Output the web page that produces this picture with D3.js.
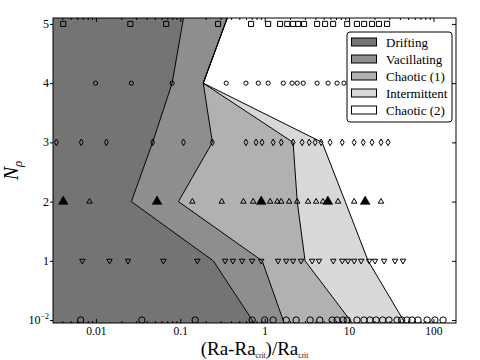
<!DOCTYPE html>
<html>
<head>
<meta charset="utf-8">
<script src="https://cdn.jsdelivr.net/npm/d3@7"></script>
<style>
  body { margin: 0; background: #fff; }
  text { font-family: "Liberation Serif", "DejaVu Serif", serif; fill: #000; }
</style>
</head>
<body>
<div id="chart"></div>
<script>
// SVG area and chart margins
var svgWidth = 480;
var svgHeight = 360;
var margin = { top: 18, right: 24, bottom: 37, left: 53 };
var chartWidth = svgWidth - margin.left - margin.right;
var chartHeight = svgHeight - margin.top - margin.bottom;

// Measured runs, one array per N_rho level
var row0 = [0.0066, 0.035, 0.15, 0.71, 1.0, 1.26, 1.8, 2.36, 3.45, 4.5, 6.3, 7.2, 8.5, 9.5, 12.4, 15, 17.7, 20.9, 25, 29.7, 37, 42, 48.5, 55.7, 65.6, 84, 104, 130];
var row1 = [0.0069, 0.0145, 0.024, 0.063, 0.159, 0.34, 0.42, 0.54, 0.71, 0.91, 1.44, 1.8, 2.17, 2.7, 3.65, 4.4, 6.5, 8.3, 9.7, 11.5, 13.9, 17.3, 20.3, 26, 35, 43.5];
var row2 = [0.0084, 0.139, 0.31, 0.56, 0.73, 1.16, 1.41, 1.57, 1.95, 2.43, 3.27, 4.07, 4.9, 7.4, 11.5, 23.9];
var row2Highlight = [0.0041, 0.053, 0.91, 5.6, 15.5];
var row3 = [0.0034, 0.0067, 0.0133, 0.047, 0.109, 0.24, 0.60, 0.79, 0.93, 1.26, 1.57, 2.17, 2.78, 3.37, 3.96, 4.67, 5.96, 8.3, 11.5, 14.7, 18.7, 23.9, 29];
var row4 = [0.0099, 0.0263, 0.080, 0.35, 0.60, 0.84, 1.1, 1.66, 2.11, 2.43, 2.86, 4.18, 5.64, 7.2, 8.7];
var row5 = [0.0041, 0.0256, 0.068, 0.28, 0.69, 1.1, 1.52, 1.85, 2.17, 2.49, 2.93, 4.18, 5.2, 6.47, 9.5, 12.4, 15.1, 18.7, 22.6, 28.2];

// Regime boundaries (x value of each edge at each level)
var edgeLevels = [-0.05, 1, 2, 3, 4, 5.1];
var driftEdge = [0.75, 0.246, 0.0263, 0.047, 0.080, 0.109];
var vacilEdge = [1.70, 0.934, 0.095, 0.24, 0.187, 0.36];
var chaos1Edge = [10.9, 3.01, 2.43, 2.17, 0.187, 0.36];
var intermEdge = [46, 16.8, 9.0, 4.79, 0.187, 0.36];

var regimeNames = ["Drifting", "Vacillating", "Chaotic (1)", "Intermittent", "Chaotic (2)"];
var regimeColors = ["#747474", "#8e8e8e", "#b1b1b1", "#d8d8d8", "#ffffff"];

// Axis ticks
var xTicks = [0.01, 0.1, 1, 10, 100];
var xTickLabels = ["0.01", "0.1", "1", "10", "100"];
var yTicks = [0, 1, 2, 3, 4, 5];
var yTickLabels = ["10^-2", "1", "2", "3", "4", "5"];

var svg = d3.select("#chart")
  .append("svg")
  .attr("width", svgWidth)
  .attr("height", svgHeight);

var chartGroup = svg.append("g")
  .attr("transform", `translate(${margin.left}, ${margin.top})`);

var xScale = d3.scaleLog()
  .domain([0.0031, 185])
  .range([0, chartWidth]);

var yScale = d3.scaleLinear()
  .domain([-0.05, 5.1])
  .range([chartHeight, 0]);

chartGroup.append("clipPath")
  .attr("id", "plotClip")
  .append("rect")
  .attr("width", chartWidth)
  .attr("height", chartHeight);

var plot = chartGroup.append("g").attr("clip-path", "url(#plotClip)");

// Filled regimes between consecutive edges
var xMin = xScale.domain()[0];
var xMax = xScale.domain()[1];
var leftEdge = edgeLevels.map(() => xMin);
var rightEdge = edgeLevels.map(() => xMax);
var edges = [leftEdge, driftEdge, vacilEdge, chaos1Edge, intermEdge, rightEdge];

var area = d3.area()
  .y(d => yScale(d.level))
  .x0(d => xScale(d.a))
  .x1(d => xScale(d.b));

regimeNames.forEach(function(name, i) {
  var pts = edgeLevels.map((lv, j) => ({ level: lv, a: edges[i][j], b: edges[i + 1][j] }));
  plot.append("path")
    .datum(pts)
    .attr("d", area)
    .attr("fill", regimeColors[i])
    .attr("stroke", "none");
});

var line = d3.line()
  .x(d => xScale(d.x))
  .y(d => yScale(d.level));

[driftEdge, vacilEdge, chaos1Edge, intermEdge].forEach(function(edge) {
  plot.append("path")
    .datum(edgeLevels.map((lv, j) => ({ level: lv, x: edge[j] })))
    .attr("d", line)
    .attr("fill", "none")
    .attr("stroke", "#000")
    .attr("stroke-width", 1);
});

// Markers
function drawRow(values, level, type, size, filled, rotate) {
  plot.append("g")
    .selectAll("path")
    .data(values)
    .enter()
    .append("path")
    .attr("d", d3.symbol().type(type).size(size))
    .attr("transform", d => `translate(${xScale(d)}, ${yScale(level)}) rotate(${rotate})`)
    .attr("fill", filled ? "#000" : "none")
    .attr("stroke", "#000")
    .attr("stroke-width", filled ? 0.6 : 1);
}

drawRow(row0, 0, d3.symbolCircle, 32, false, 0);
drawRow(row1, 1, d3.symbolTriangle, 13, false, 180);
drawRow(row2, 2, d3.symbolTriangle, 13, false, 0);
drawRow(row2Highlight, 2, d3.symbolTriangle, 40, true, 0);
drawRow(row3, 3, d3.symbolDiamond, 13, false, 0);
drawRow(row4, 4, d3.symbolCircle, 14, false, 0);
drawRow(row5, 5, d3.symbolSquare, 26, false, 0);

// Axes
var minorTicks = [];
[0.001, 0.01, 0.1, 1, 10, 100].forEach(function(dec) {
  for (var k = 2; k <= 9; k++) minorTicks.push(dec * k);
});
minorTicks = minorTicks.filter(v => v >= xMin && v <= xMax);

chartGroup.append("g")
  .attr("class", "axis")
  .attr("transform", `translate(0, ${chartHeight})`)
  .call(d3.axisBottom(xScale).tickValues(xTicks)
    .tickFormat((d, i) => xTickLabels[i]).tickSizeInner(-4).tickSizeOuter(0).tickPadding(4));

chartGroup.append("g")
  .attr("class", "axis minor")
  .attr("transform", `translate(0, ${chartHeight})`)
  .call(d3.axisBottom(xScale).tickValues(minorTicks).tickFormat("").tickSizeInner(-2).tickSizeOuter(0));

chartGroup.append("g")
  .attr("class", "axis")
  .call(d3.axisTop(xScale).tickValues(xTicks).tickFormat("").tickSizeInner(-4).tickSizeOuter(0));

chartGroup.append("g")
  .attr("class", "axis minor")
  .call(d3.axisTop(xScale).tickValues(minorTicks).tickFormat("").tickSizeInner(-2).tickSizeOuter(0));

chartGroup.append("g")
  .attr("class", "axis")
  .call(d3.axisLeft(yScale).tickValues(yTicks).tickFormat("").tickSizeInner(3).tickSizeOuter(0));

chartGroup.append("g")
  .attr("class", "axis")
  .attr("transform", `translate(${chartWidth}, 0)`)
  .call(d3.axisRight(yScale).tickValues(yTicks).tickFormat("").tickSizeInner(-4).tickSizeOuter(0));

chartGroup.selectAll(".axis path.domain").remove();
chartGroup.selectAll(".axis").attr("font-family", null);
chartGroup.selectAll(".axis line").attr("stroke", "#000");
chartGroup.selectAll(".axis text")
  .style("font-family", '"Liberation Serif", serif')
  .style("font-size", "11.5px");

// y tick labels, with the exponent as a superscript
yTicks.forEach(function(v, i) {
  var parts = yTickLabels[i].split("^");
  var t = chartGroup.append("text")
    .attr("x", -4)
    .attr("y", yScale(v) + 4)
    .attr("text-anchor", "end")
    .style("font-size", "12px")
    .text(parts[0]);
  if (parts[1]) {
    t.append("tspan")
      .attr("dy", -5)
      .style("font-size", "8px")
      .text(parts[1].replace("-", "\u2212"));
  }
});

// Frame
chartGroup.append("rect")
  .attr("width", chartWidth)
  .attr("height", chartHeight)
  .attr("fill", "none")
  .attr("stroke", "#000")
  .attr("stroke-width", 1);

// Axis labels
var xLabel = svg.append("text")
  .attr("x", margin.left + chartWidth / 2)
  .attr("y", 355)
  .attr("text-anchor", "middle")
  .style("font-size", "19px");
xLabel.append("tspan").text("(Ra-Ra");
xLabel.append("tspan").attr("dy", 3).style("font-size", "7.5px").text("crit");
xLabel.append("tspan").attr("dy", -3).text(")/Ra");
xLabel.append("tspan").attr("dy", 3).style("font-size", "7.5px").text("crit");

var yLabel = svg.append("text")
  .attr("transform", `translate(18, ${margin.top + chartHeight / 2}) rotate(-90)`)
  .attr("text-anchor", "middle")
  .style("font-size", "20px")
  .style("font-style", "italic");
yLabel.append("tspan").text("N");
yLabel.append("tspan").attr("dy", 4).style("font-size", "13px").text("\u03c1");

// Legend
var legend = chartGroup.append("g")
  .attr("transform", `translate(${chartWidth - 109}, 14)`);

legend.append("rect")
  .attr("width", 105)
  .attr("height", 90)
  .attr("rx", 3)
  .attr("fill", "#fff")
  .attr("stroke", "#000")
  .attr("stroke-width", 1);

var legendItem = legend.selectAll(".item")
  .data(regimeNames)
  .enter()
  .append("g")
  .attr("class", "item")
  .attr("transform", (d, i) => `translate(0, ${10 + i * 17})`);

legendItem.append("rect")
  .attr("x", 4.5)
  .attr("y", -4)
  .attr("width", 25)
  .attr("height", 8)
  .attr("fill", (d, i) => regimeColors[i])
  .attr("stroke", "#000")
  .attr("stroke-width", 1);

legendItem.append("text")
  .attr("x", 39)
  .attr("y", 4.5)
  .style("font-size", "13px")
  .text(d => d);
</script>
</body>
</html>
